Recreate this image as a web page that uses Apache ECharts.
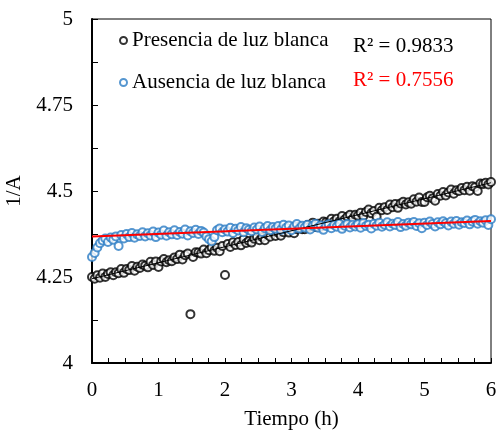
<!DOCTYPE html>
<html>
<head>
<meta charset="utf-8">
<script src="https://cdn.jsdelivr.net/npm/echarts@6/dist/echarts.min.js"></script>
<style>html,body{margin:0;padding:0;background:#fff;}#c{width:498px;height:437px;}</style>
</head>
<body>
<div id="c"></div>
<script>
var timeH = [
0.00,0.04,0.08,0.12,0.16,0.20,0.24,0.28,0.32,0.36,
0.40,0.44,0.48,0.52,0.56,0.60,0.64,0.68,0.72,0.76,
0.80,0.84,0.88,0.92,0.96,1.00,1.04,1.08,1.12,1.16,
1.20,1.24,1.28,1.32,1.36,1.40,1.44,1.48,1.52,1.56,
1.60,1.64,1.68,1.72,1.76,1.80,1.84,1.88,1.92,1.96,
2.00,2.04,2.08,2.12,2.16,2.20,2.24,2.28,2.32,2.36,
2.40,2.44,2.48,2.52,2.56,2.60,2.64,2.68,2.72,2.76,
2.80,2.84,2.88,2.92,2.96,3.00,3.04,3.08,3.12,3.16,
3.20,3.24,3.28,3.32,3.36,3.40,3.44,3.48,3.52,3.56,
3.60,3.64,3.68,3.72,3.76,3.80,3.84,3.88,3.92,3.96,
4.00,4.04,4.08,4.12,4.16,4.20,4.24,4.28,4.32,4.36,
4.40,4.44,4.48,4.52,4.56,4.60,4.64,4.68,4.72,4.76,
4.80,4.84,4.88,4.92,4.96,5.00,5.04,5.08,5.12,5.16,
5.20,5.24,5.28,5.32,5.36,5.40,5.44,5.48,5.52,5.56,
5.60,5.64,5.68,5.72,5.76,5.80,5.84,5.88,5.92,5.96,
6.00];

var presencia = [
4.250,4.245,4.255,4.248,4.260,4.250,4.259,4.264,4.255,4.264,
4.261,4.273,4.262,4.273,4.270,4.282,4.268,4.280,4.276,4.286,
4.283,4.278,4.294,4.285,4.295,4.279,4.295,4.302,4.293,4.299,
4.296,4.307,4.302,4.315,4.301,4.313,4.318,4.142,4.308,4.322,
4.321,4.318,4.330,4.319,4.328,4.336,4.326,4.335,4.325,4.340,
4.256,4.346,4.337,4.351,4.343,4.352,4.342,4.360,4.349,4.355,
4.350,4.361,4.368,4.357,4.366,4.357,4.373,4.367,4.380,4.369,
4.379,4.370,4.380,4.388,4.379,4.389,4.377,4.389,4.396,4.389,
4.389,4.401,4.396,4.408,4.395,4.405,4.396,4.411,4.409,4.407,
4.419,4.412,4.419,4.411,4.427,4.417,4.425,4.431,4.419,4.431,
4.428,4.437,4.427,4.439,4.446,4.435,4.442,4.425,4.451,4.444,
4.453,4.445,4.461,4.453,4.462,4.451,4.464,4.469,4.461,4.467,
4.463,4.476,4.469,4.481,4.468,4.468,4.482,4.486,4.478,4.472,
4.491,4.486,4.497,4.487,4.496,4.504,4.492,4.502,4.500,4.509,
4.502,4.512,4.501,4.514,4.511,4.500,4.522,4.520,4.524,4.519,
4.526];

var ausencia = [
4.308,4.320,4.336,4.348,4.356,4.362,4.352,4.365,4.358,4.368,
4.340,4.372,4.362,4.375,4.366,4.378,4.364,4.374,4.369,4.380,
4.368,4.377,4.371,4.382,4.366,4.379,4.373,4.385,4.370,4.380,
4.374,4.386,4.372,4.381,4.376,4.388,4.371,4.383,4.378,4.387,
4.375,4.384,4.379,4.368,4.360,4.354,4.366,4.386,4.391,4.380,
4.388,4.382,4.393,4.378,4.390,4.385,4.395,4.380,4.392,4.387,
4.383,4.394,4.388,4.397,4.381,4.392,4.398,4.386,4.395,4.390,
4.398,4.387,4.402,4.393,4.400,4.386,4.397,4.404,4.391,4.399,
4.394,4.402,4.388,4.399,4.405,4.393,4.400,4.387,4.398,4.403,
4.392,4.401,4.396,4.405,4.390,4.399,4.404,4.394,4.402,4.397,
4.403,4.393,4.407,4.398,4.402,4.391,4.405,4.399,4.408,4.396,
4.402,4.409,4.397,4.405,4.401,4.410,4.395,4.404,4.399,4.408,
4.403,4.410,4.398,4.406,4.392,4.408,4.401,4.411,4.404,4.397,
4.409,4.403,4.412,4.406,4.400,4.411,4.405,4.413,4.402,4.409,
4.407,4.414,4.403,4.411,4.416,4.405,4.412,4.408,4.415,4.401,
4.418];

var trendX = [0, 6];
var trendPresencia = [4.245, 4.524];
var trendAusencia = [4.368, 4.413];

var xTicks = [0, 6, 1];
var yTicks = [4, 5, 0.25];
var seriesNames = ['Presencia de luz blanca', 'Ausencia de luz blanca'];
var r2Labels = ['R\u00B2 = 0.9833', 'R\u00B2 = 0.7556'];

function pairs(xs, ys) { return xs.map(function (x, i) { return [x, ys[i]]; }); }

var FONT = '"Liberation Serif", "Times New Roman", serif';
var chart = echarts.init(document.getElementById('c'), null, { renderer: 'canvas' });
chart.setOption({
  animation: false,
  backgroundColor: '#fff',
  textStyle: { fontFamily: FONT, color: '#000' },
  grid: { left: 92, right: 7, top: 19, bottom: 74, show: true, borderColor: '#000', borderWidth: 1,
          containLabel: false, outerBoundsMode: 'none' },
  legend: {
    data: seriesNames,
    orient: 'vertical',
    left: 114, top: 25,
    itemWidth: 7, itemHeight: 7, itemGap: 21,
    textStyle: { fontFamily: FONT, fontSize: 21, color: '#000' }
  },
  xAxis: {
    type: 'value', min: xTicks[0], max: xTicks[1], interval: xTicks[2],
    name: 'Tiempo (h)', nameLocation: 'middle', nameGap: 46,
    nameTextStyle: { fontFamily: FONT, fontSize: 21, color: '#000' },
    axisLine: { lineStyle: { color: '#000', width: 2 } },
    axisTick: { inside: true, length: 5, lineStyle: { color: '#000', width: 1 } },
    minorTick: { show: true, splitNumber: 4, length: 5, lineStyle: { color: '#000', width: 1 } },
    splitLine: { show: false },
    axisLabel: { fontFamily: FONT, fontSize: 21, color: '#000', margin: 17 }
  },
  yAxis: {
    type: 'value', min: yTicks[0], max: yTicks[1], interval: yTicks[2],
    name: '1/A', nameLocation: 'middle', nameGap: 60, nameRotate: 90,
    nameTextStyle: { fontFamily: FONT, fontSize: 21, color: '#000' },
    axisLine: { show: true, lineStyle: { color: '#000', width: 2 } },
    axisTick: { show: true, inside: true, length: 6, lineStyle: { color: '#000', width: 1 } },
    minorTick: { show: true, splitNumber: 2, length: 6, lineStyle: { color: '#000', width: 1 } },
    splitLine: { show: false },
    axisLabel: { fontFamily: FONT, fontSize: 21, color: '#000', margin: 19 }
  },
  series: [
    {
      name: seriesNames[0], type: 'scatter', symbol: 'emptyCircle', symbolSize: 8,
      itemStyle: { color: '#000', borderWidth: 1 },
      data: pairs(timeH, presencia), z: 2
    },
    {
      name: seriesNames[1], type: 'scatter', symbol: 'emptyCircle', symbolSize: 8,
      itemStyle: { color: '#2a7cc4', borderWidth: 1 },
      data: pairs(timeH, ausencia), z: 3
    },
    {
      name: 'trend1', type: 'line', symbol: 'none', silent: true,
      lineStyle: { color: '#000', width: 1 }, data: pairs(trendX, trendPresencia), z: 4
    },
    {
      name: 'trend2', type: 'line', symbol: 'none', silent: true,
      lineStyle: { color: '#ff0000', width: 2 }, data: pairs(trendX, trendAusencia), z: 5
    }
  ],
  graphic: [
    { type: 'text', left: 353, top: 36, style: { text: r2Labels[0], font: '21px ' + FONT, fill: '#000' } },
    { type: 'text', left: 353, top: 70, style: { text: r2Labels[1], font: '21px ' + FONT, fill: '#ff0000' } }
  ]
});
</script>
</body>
</html>
